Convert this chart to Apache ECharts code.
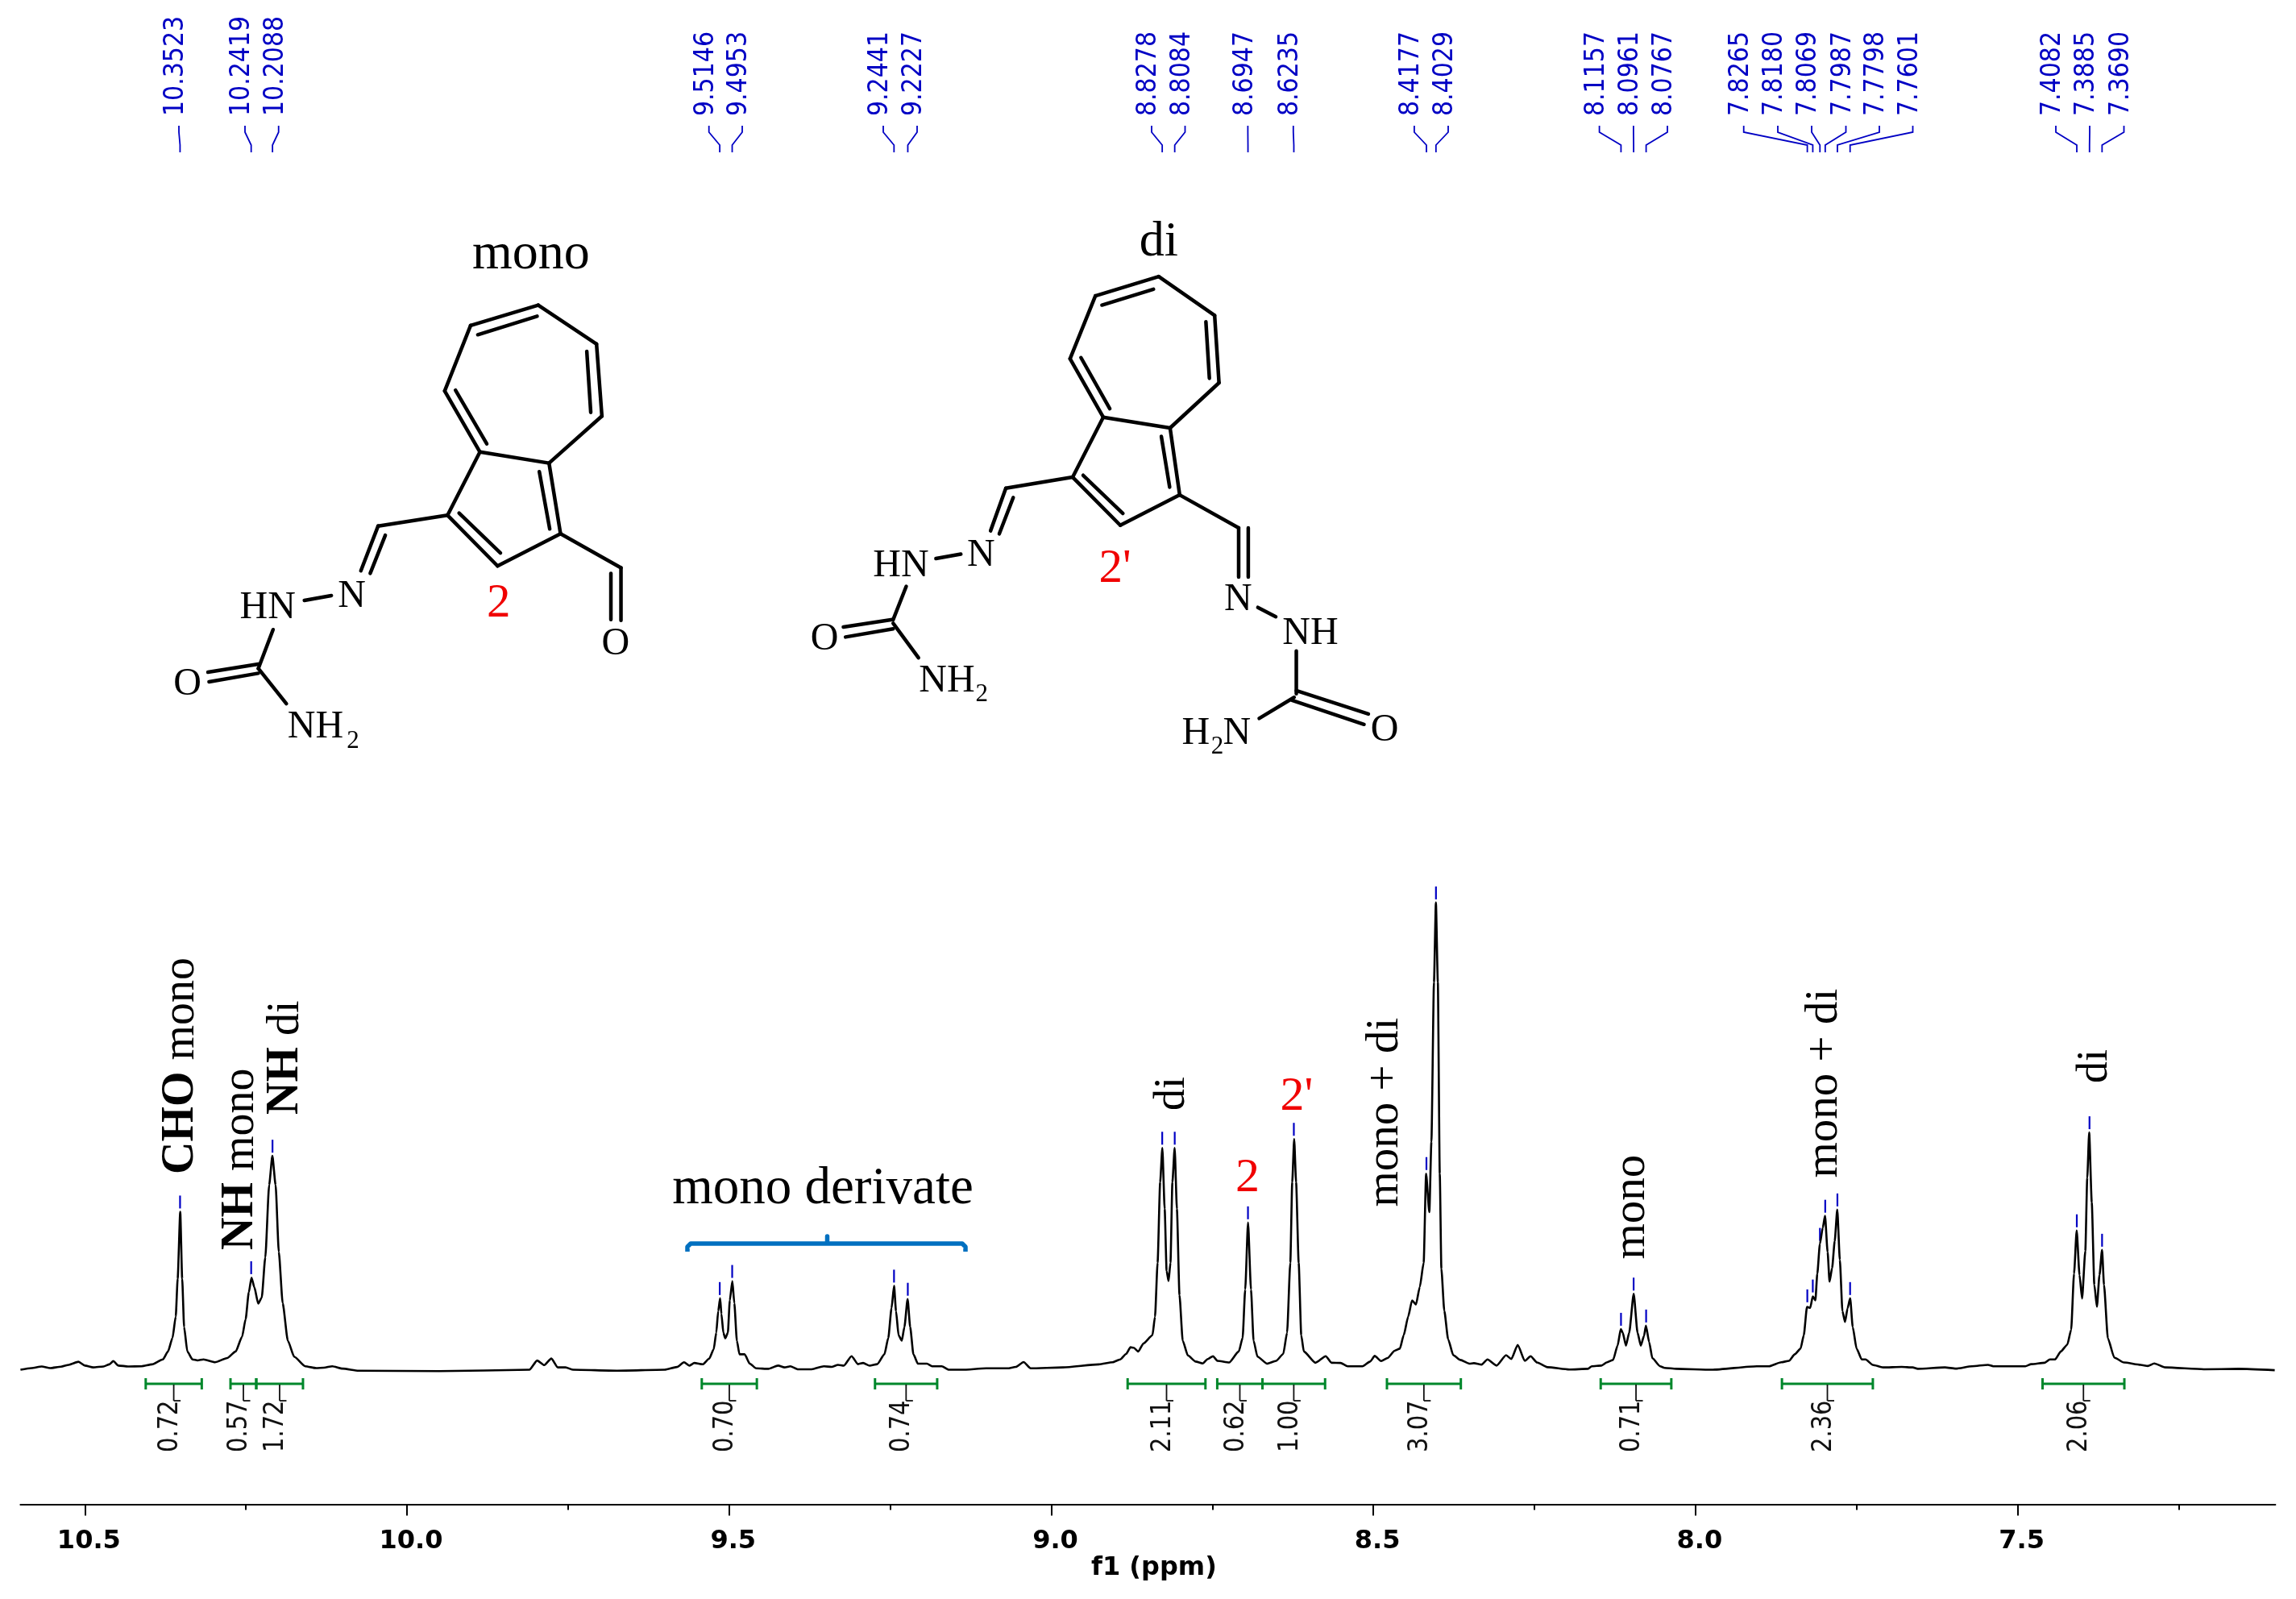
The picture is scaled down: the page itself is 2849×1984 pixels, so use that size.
<!DOCTYPE html>
<html>
<head>
<meta charset="utf-8">
<title>1H NMR mono / di</title>
<script src="https://cdn.jsdelivr.net/npm/echarts@6/dist/echarts.min.js"></script>
<style>
html, body { margin: 0; width: 100%; height: 100%; background: #fff; }
#main { width: 2849px; height: 1984px; }
</style>
</head>
<body>
<div id="main"></div>
<script>
// spectrum: shift (ppm) and intensity (tallest peak = 100)
var specPpm = [
  10.600,10.583,10.567,10.554,10.537,10.525,10.510,10.500,10.487,10.471,10.462,10.456,10.448,10.433,10.412,10.396,10.379,10.371,10.364,10.359,10.356,10.352,10.349,10.346,10.341,10.333,10.325,10.316,10.298,10.279,10.266,10.256,10.2505,10.2456,10.2414,10.237,10.231,10.2255,10.220,10.214,10.209,10.204,10.199,10.193,10.185,10.175,10.158,10.141,10.129,10.116,10.100,10.075,
  9.950,9.810,9.798,9.787,9.776,9.766,9.754,9.742,9.674,9.600,
  9.581,9.570,9.562,9.554,9.541,9.531,9.524,9.520,9.517,9.514,9.512,9.509,9.506,9.502,9.499,9.495,9.492,9.488,9.484,9.476,9.468,9.458,9.439,9.424,9.414,9.405,9.393,9.372,9.353,9.341,9.331,9.322,9.310,9.300,9.292,9.282,9.270,9.259,9.253,9.248,9.244,9.241,9.237,9.232,9.228,9.223,9.219,9.214,9.207,9.193,9.185,9.170,9.159,9.139,9.101,9.068,9.055,
  9.043,9.032,8.982,8.926,
  8.905,8.893,8.884,8.877,8.872,8.865,8.857,8.843,8.839,8.835,8.831,8.8276,8.824,8.821,8.818,8.815,8.812,8.8085,8.805,8.801,8.796,8.788,8.776,8.765,8.757,8.749,8.742,8.724,8.709,8.703,8.699,8.6946,8.690,8.686,8.680,8.665,8.651,8.640,8.634,8.629,8.626,8.623,8.620,8.616,8.612,8.608,8.590,8.574,8.565,8.551,8.540,8.517,8.505,8.498,8.488,8.478,8.467,8.459,8.453,8.446,8.440,8.434,8.428,8.422,
  8.4182,8.4132,8.410,8.406,8.403,8.400,8.397,8.3945,8.390,8.384,8.376,8.365,8.351,8.344,8.332,8.323,8.309,8.294,8.286,8.276,8.265,8.256,8.246,8.230,8.196,8.167,8.161,8.146,8.138,8.128,8.121,8.116,8.113,8.108,8.103,8.096,8.090,8.085,8.080,8.077,8.072,8.067,8.055,8.048,8.030,
  7.975,7.905,7.886,7.867,7.855,7.846,7.837,7.832,7.827,7.822,7.818,7.814,7.811,7.807,7.8025,7.799,7.795,7.792,7.788,7.784,7.780,7.776,7.772,7.768,7.764,7.760,7.756,7.750,7.742,7.736,7.725,7.709,7.680,7.663,7.655,7.613,7.596,7.571,7.546,7.538,7.488,7.479,7.458,7.450,7.442,7.433,7.423,7.417,7.4125,
  7.4084,7.404,7.400,7.395,7.392,7.389,7.385,7.381,7.377,7.373,7.369,7.366,7.360,7.350,7.335,7.309,7.298,7.288,7.271,7.211,7.157,7.101
];
var specInt = [
  0.1,0.45,0.8,0.45,0.75,1.15,1.8,1.0,0.6,0.8,1.25,1.95,1.0,0.8,0.85,1.25,2.3,4.0,6.9,11.45,19.5,33.8,19.5,9.2,4.0,2.3,2.1,2.3,1.7,2.6,4.0,7.15,10.9,16.6,19.75,17.7,14.2,15.5,24.05,39.5,45.7,39.5,25.2,14.3,6.3,2.85,0.85,0.45,0.55,0.85,0.35,-0.1,
  -0.2,0.1,2.07,1.1,2.5,0.6,0.6,0.1,-0.1,0.1,
  0.69,1.7,0.98,1.55,1.26,2.47,4.47,8.0,12.6,15.35,12.0,8.0,6.8,8.0,14.9,19.0,14.3,6.3,3.4,3.4,1.4,0.4,0.3,1.0,0.6,0.85,0.2,0.2,0.85,0.7,1.15,0.98,3.0,1.3,1.55,0.98,1.3,3.4,6.9,13.2,18.0,12.6,7.45,6.3,9.2,15.2,9.2,3.4,1.4,1.4,0.85,0.85,0.1,0.1,0.4,0.4,0.7,
  1.75,0.4,0.6,1.25,
  1.7,2.3,3.45,4.9,4.8,4.0,5.7,7.45,11.4,22.9,40.1,47.4,34.4,21.2,19.0,22.9,40.1,47.4,34.4,16.0,6.3,3.15,1.85,1.45,2.4,3.0,2.0,1.65,4.0,6.9,17.2,31.5,17.2,6.3,2.9,1.4,2.0,3.45,8.0,22.9,40.1,49.3,40.1,22.9,7.45,4.0,1.6,3.0,1.6,1.55,0.85,0.85,1.85,3.05,1.95,2.6,4.15,4.6,7.45,11.45,14.9,14.0,17.75,22.9,
  41.9,33.7,48.7,82.7,99.7,82.7,41.9,21.6,12.7,6.6,3.2,2.2,1.4,1.5,1.2,2.3,1.0,3.2,2.4,5.4,2.0,3.0,1.65,0.65,0.15,0.3,0.85,1.0,1.65,2.2,5.25,8.8,8.0,5.25,8.0,16.3,8.0,5.25,7.3,9.5,6.0,2.55,0.85,0.5,0.3,
  0.1,0.85,0.85,1.7,2.0,3.4,4.6,7.45,13.5,13.3,15.75,14.9,20.6,26.9,30.4,32.9,25.2,18.9,21.8,27.5,34.25,23.5,12.6,10.3,13.2,15.35,9.2,4.6,2.3,2.3,1.15,0.6,0.7,0.6,0.3,0.6,0.35,0.85,1.15,0.85,0.85,1.3,1.6,2.3,2.3,4.0,5.45,8.6,20.6,
  29.8,20.3,15.3,25.4,41,50.7,35.8,18.2,13.55,20.3,25.65,18.2,6.8,2.7,1.65,1.15,0.9,1.45,0.6,0.2,0.3,0
];

// picked peaks
var peakShifts = [10.3523,10.2419,10.2088,9.5146,9.4953,9.2441,9.2227,8.8278,8.8084,8.6947,8.6235,8.4177,8.4029,8.1157,8.0961,8.0767,7.8265,7.8180,7.8069,7.7987,7.7798,7.7601,7.4082,7.3885,7.3690];
var peakHeights = [33.8,19.8,45.7,15.35,19.0,18.0,15.2,47.4,47.4,31.5,49.3,42.0,99.7,8.8,16.3,9.5,13.8,15.9,26.9,32.9,34.25,15.35,29.8,50.7,25.65];

// integrals
var integralFrom = [10.4056,10.274,10.234,9.5425,9.2736,8.8815,8.7424,8.6722,8.479,8.1472,7.8659,7.4614];
var integralTo = [10.3186,10.234,10.1615,9.457,9.1771,8.7607,8.6722,8.575,8.3643,8.0376,7.7248,7.3344];
var integralValues = ['0.72','0.57','1.72','0.70','0.74','2.11','0.62','1.00','3.07','0.71','2.36','2.06'];

// axis ticks
var majorTicks = [10.5,10,9.5,9,8.5,8,7.5];
var minorTicks = [10.25,9.75,9.25,8.75,8.25,7.75,7.25];

// where the shift labels sit along the top of the page (px)
var peakLabelX = [222,304,345.7,879.7,921,1096,1138,1429,1470.5,1548.4,1604.8,1754.9,1797,1984.6,2026.9,2069,2163.7,2206,2248,2290.5,2332,2373.5,2551,2593,2635.5];

var SERIF = '"Liberation Serif", serif';
var SANS = '"DejaVu Sans", sans-serif';
var BLUE = '#0000c4';

function renderPeak(params, api) {
    var i = params.dataIndex;
    var top = api.coord([api.value(0), api.value(1)]);
    var x = top[0], lx = peakLabelX[i];
    var kids = [
        { type: 'line', shape: { x1: x, y1: top[1] - 4, x2: x, y2: top[1] - 20 }, style: { stroke: BLUE, lineWidth: 2.2 } },
        { type: 'polyline', shape: { points: [[lx, 156], [lx, 164], [x, 180], [x, 189]] }, style: { stroke: BLUE, lineWidth: 1.8, fill: null } },
        { type: 'text', x: lx - 3.5, y: 144, rotation: Math.PI / 2, scaleY: 1.15, style: { text: peakShifts[i].toFixed(4), fill: BLUE, font: '30px ' + SANS, align: 'left', verticalAlign: 'middle' } }
    ];
    return { type: 'group', children: kids };
}

function renderIntegral(params, api) {
    var i = params.dataIndex;
    var y = 1717;
    var x1 = api.coord([integralFrom[i], 0])[0];
    var x2 = api.coord([integralTo[i], 0])[0];
    var mid = (x1 + x2) / 2;
    var green = { stroke: '#00872b', lineWidth: 3 };
    var dark = { stroke: '#111', lineWidth: 1.8 };
    return {
        type: 'group', children: [
            { type: 'line', shape: { x1: x1, y1: y, x2: x2, y2: y }, style: green },
            { type: 'line', shape: { x1: x1, y1: y - 7, x2: x1, y2: y + 7 }, style: green },
            { type: 'line', shape: { x1: x2, y1: y - 7, x2: x2, y2: y + 7 }, style: green },
            { type: 'line', shape: { x1: mid, y1: y + 1, x2: mid, y2: 1738 }, style: dark },
            { type: 'line', shape: { x1: mid, y1: 1738, x2: mid + 8.5, y2: 1738 }, style: dark },
            { type: 'text', x: mid - 4.5, y: 1802, rotation: Math.PI / 2, scaleY: 1.15, style: { text: integralValues[i], fill: '#111', font: '29px ' + SANS, align: 'left', verticalAlign: 'middle' } }
        ]
    };
}

// rotated assignment text: x is the centre of the column, y where the text starts
function upText(text, x, y, size, rich) {
    return {
        type: 'text', x: x, y: y, rotation: Math.PI / 2, z: 5,
        style: { text: text, fill: '#000', fontFamily: SERIF, fontSize: size, align: 'left', verticalAlign: 'middle', rich: rich }
    };
}
function flatText(text, x, y, size, color) {
    return {
        type: 'text', x: x, y: y, z: 5,
        style: { text: text, fill: color || '#000', fontFamily: SERIF, fontSize: size, align: 'center', verticalAlign: 'middle' }
    };
}

var boldRich = { b: { fontFamily: SERIF, fontSize: 56, fontWeight: 'bold', fill: '#000' }, n: { fontFamily: SERIF, fontSize: 56, fill: '#000' } };

var graphics = [
    upText('{b|CHO}{n| mono}', 225, 1457, 56, boldRich),
    upText('{b|NH}{n| mono}', 299, 1551, 56, boldRich),
    upText('{b|NH}{n| di}', 355, 1383, 56, boldRich),
    upText('di', 1455, 1378, 54),
    upText('mono + di', 1719, 1497.5, 57),
    upText('mono', 2025, 1562.5, 57),
    upText('mono + di', 2264, 1461.5, 57),
    upText('di', 2600, 1344, 54),
    flatText('mono derivate', 1021, 1476, 65),
    flatText('2', 1548, 1462, 60, '#f00000'),
    flatText("2'", 1609, 1361, 60, '#f00000'),
    // bracket over the mono derivate signals
    { type: 'polyline', z: 5, shape: { points: [[853, 1553], [853, 1547], [857, 1543], [1026.5, 1543], [1026.5, 1534], [1026.5, 1543], [1194, 1543], [1198, 1547], [1198, 1553]] }, style: { stroke: '#0070c0', lineWidth: 5.5, fill: null, lineJoin: 'round' } }
];

// the two structures, traced per crop: [x1, y1, x2, y2]
var monoBonds = [
    [1160,280,1322,385],[1322,385,1337,580],[1337,580,1190,707],[1190,707,998,677],[998,677,900,512],[900,512,972,335],[972,335,1160,280],
    [998,677,908,848],[908,848,1047,985],[1047,985,1222,898],[1222,898,1190,707],
    [992,360,1157,310],[1295,405,1306,570],[930,510,1017,655],[1163,730,1192,885],[940,842,1055,950],
    [908,848,715,877],[715,877,667,998],[735,902,693,1005],[510,1078,585,1065],[423,1157,382,1262],
    [382,1250,242,1272],[382,1275,245,1298],[382,1262,460,1357],
    [1222,898,1390,990],[1390,990,1390,1132],[1362,1005,1362,1130]
];
var diBonds = [
    [900,203,1028,308],[1028,308,1038,490],[1038,490,926,612],[926,612,773,583],[773,583,697,425],[697,425,755,255],[755,255,900,203],
    [773,583,703,745],[703,745,812,875],[812,875,948,793],[948,793,926,612],
    [770,280,888,237],[1008,325,1016,478],[722,422,788,560],[906,635,925,772],[727,740,818,843],
    [703,745,550,775],[550,775,515,890],[567,800,535,898],[390,965,447,953],[322,1040,292,1130],
    [290,1130,178,1150],[292,1155,183,1177],[292,1140,350,1233],
    [948,793,1083,882],[1083,882,1083,1015],[1105,882,1105,1015],[1127,1097,1168,1122],[1215,1215,1215,1330],
    [1215,1322,1380,1385],[1205,1348,1370,1413],[1210,1340,1130,1397]
];
// [text, x, y, size, colour]
var monoAtoms = [
    ['mono',1140,145,64],['N',642,1068,48],['HN',408,1098,48],['O',185,1306,48],['NH',541,1420,48],['2',645,1460,31],['O',1375,1196,48],['2',1050,1088,59,'#f00000']
];
var diAtoms = [
    ['di',900,111,62],['N',493,956,48],['HN',310,985,48],['O',135,1183,48],['NH',415,1296,48],['2',495,1333,31],
    ['N',1082,1076,48],['NH',1247,1168,48],['O',1417,1430,48],['H',985,1438,48],['2',1034,1475,31],['N',1079,1438,48],["2'",800,995,59,'#f00000']
];

function addStructure(bonds, atoms, x0, y0, sx, sy) {
    bonds.forEach(function (b) {
        graphics.push({
            type: 'line', z: 5,
            shape: { x1: x0 + b[0] / sx, y1: y0 + b[1] / sy, x2: x0 + b[2] / sx, y2: y0 + b[3] / sy },
            style: { stroke: '#000', lineWidth: 4.5, lineCap: 'round' }
        });
    });
    atoms.forEach(function (a) {
        graphics.push(flatText(a[0], x0 + a[1] / sx, y0 + a[2] / sy, a[3], a[4]));
    });
}
addStructure(monoBonds, monoAtoms, 150, 250, 2.24, 2.178);
addStructure(diBonds, diAtoms, 950, 250, 1.845, 2.178);

var myChart = echarts.init(document.getElementById('main'));
var option = {
    animation: false,
    backgroundColor: '#fff',
    grid: { left: 25.4, right: 25.6, top: 1000, bottom: 117.4 },
    xAxis: [
        {
            type: 'value', inverse: true, min: 7.1, max: 10.6,
            name: 'f1 (ppm)', nameLocation: 'middle', nameGap: 63,
            nameTextStyle: { fontFamily: SANS, fontWeight: 'bold', fontSize: 32, color: '#000', padding: [0, 0, 0, 15] },
            axisLine: { onZero: false, lineStyle: { color: '#000', width: 2 } },
            axisTick: { show: true, length: 14, customValues: majorTicks, lineStyle: { color: '#000', width: 2 } },
            axisLabel: {
                customValues: majorTicks, margin: 30, fontFamily: SANS, fontWeight: 'bold', fontSize: 32, color: '#000',
                padding: [0, 0, 0, 10], formatter: function (v) { return v.toFixed(1); }
            },
            splitLine: { show: false }
        },
        {
            type: 'value', inverse: true, min: 7.1, max: 10.6, position: 'bottom',
            axisLine: { show: false, onZero: false },
            axisTick: { show: true, length: 7, customValues: minorTicks, lineStyle: { color: '#000', width: 2 } },
            axisLabel: { show: false },
            splitLine: { show: false }
        }
    ],
    yAxis: { type: 'value', min: -28.6, max: 120.3, show: false },
    graphic: { elements: graphics },
    series: [
        {
            type: 'line', name: 'spectrum', xAxisIndex: 0,
            data: specPpm.map(function (p, i) { return [p, specInt[i]]; }),
            showSymbol: false, smooth: 0.2, smoothMonotone: 'x',
            lineStyle: { color: '#000', width: 2.6 }
        },
        {
            type: 'custom', name: 'peaks', xAxisIndex: 0, renderItem: renderPeak,
            data: peakShifts.map(function (p, i) { return [p, peakHeights[i]]; })
        },
        {
            type: 'custom', name: 'integrals', xAxisIndex: 0, renderItem: renderIntegral,
            data: integralFrom.map(function (p, i) { return [p, 0]; })
        }
    ]
};
myChart.setOption(option);
</script>
</body>
</html>
